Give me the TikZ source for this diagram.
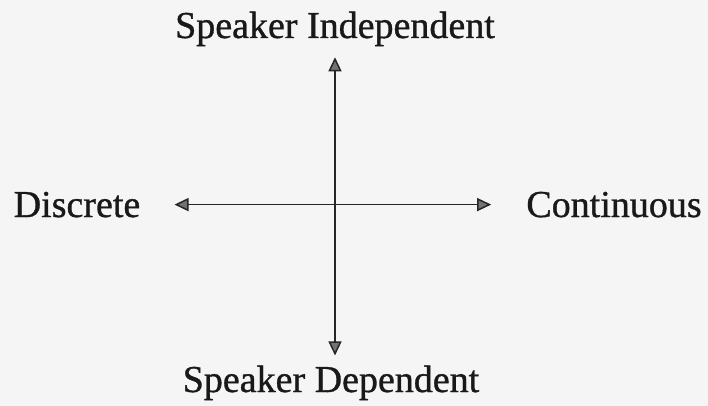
\documentclass[tikz,border=0pt]{standalone}
\usepackage{fontspec}
\setmainfont{Liberation Serif}
\newfontfamily\scanfont{Liberation Serif}[FakeBold=0.9]
\usetikzlibrary{arrows.meta,positioning}

\begin{document}
\begin{tikzpicture}[
  x=1pt, y=-1pt,
  lbl/.style={inner sep=0pt, anchor=base, text=black!90,
              font=\scanfont\fontsize{38}{40}\selectfont},
  arr/.style={draw=black!85, line width=1.5pt,
              {Triangle[length=14pt,width=13pt,fill=black!55]}-{Triangle[length=14pt,width=13pt,fill=black!55]}}
]
\useasboundingbox[fill=black!4] (0,0) rectangle (708,406);
\node[lbl] (indep) at (335,38)  {Speaker Independent};
\node[lbl] (dep)   at (331,392) {Speaker Dependent};
\node[lbl] (disc)  at (77,217)  {Discrete};
\node[lbl] (cont)  at (614,217) {Continuous};
\draw[arr, shorten <=11pt, shorten >=10pt] (indep.south) -- (indep.south |- dep.north);
\draw[arr, shorten <=34pt, shorten >=35pt] (disc.east) -- (cont.west);
\end{tikzpicture}
\end{document}
